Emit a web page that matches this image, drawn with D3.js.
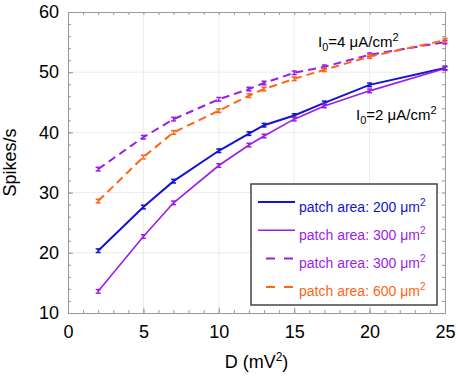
<!DOCTYPE html>
<html>
<head>
<meta charset="utf-8">
<script src="https://cdn.jsdelivr.net/npm/d3@7"></script>
<style>
  body { margin: 0; background: #fff; }
  text { font-family: Arial, "Liberation Sans", sans-serif; }
</style>
</head>
<body>
<svg id="chart"></svg>
<script>
// D values (mV^2) where spikes were measured
const dValues = [2, 5, 7, 10, 12, 13, 15, 17, 20, 25];

// firing rate (spikes/s)
const area200I2 = [20.35, 27.6, 31.9, 36.95, 39.8, 41.2, 42.8, 44.9, 47.9, 50.7];
const area300I2 = [13.6, 22.7, 28.3, 34.5, 37.9, 39.4, 42.2, 44.4, 46.9, 50.6];
const area300I4 = [33.9, 39.2, 42.2, 45.5, 47.2, 48.2, 49.9, 50.9, 52.9, 55.0];
const area600I4 = [28.6, 35.9, 40.0, 43.6, 46.1, 47.2, 48.9, 50.4, 52.6, 55.3];
const errBar = [0.3, 0.3, 0.3, 0.3, 0.3, 0.3, 0.3, 0.3, 0.3, 0.3];

const xTicks = [0, 5, 10, 15, 20, 25];
const yTicks = [10, 20, 30, 40, 50, 60];
const legendLabels = ["patch area: 200 ", "patch area: 300 ", "patch area: 300 ", "patch area: 600 "];

const series = [
  { vals: area200I2, color: "#1414d2", dash: null, width: 2 },
  { vals: area300I2, color: "#9b1ee6", dash: null, width: 1.6 },
  { vals: area300I4, color: "#9b1ee6", dash: "8,5", width: 2 },
  { vals: area600I4, color: "#ff6414", dash: "8,5", width: 2 }
];

const svgWidth = 458;
const svgHeight = 377;
const margin = { top: 12, right: 13, bottom: 64, left: 68 };

const svg = d3.select("#chart")
  .attr("width", svgWidth)
  .attr("height", svgHeight);

const xScale = d3.scaleLinear()
  .domain([0, 25])
  .range([margin.left, svgWidth - margin.right]);

const yScale = d3.scaleLinear()
  .domain([10, 60])
  .range([svgHeight - margin.bottom, margin.top]);

// faint grid
svg.append("g").selectAll("line.gx")
  .data(xTicks.slice(1, -1))
  .enter().append("line")
  .attr("x1", d => xScale(d)).attr("x2", d => xScale(d))
  .attr("y1", yScale(10)).attr("y2", yScale(60))
  .attr("stroke", "#ececec");
svg.append("g").selectAll("line.gy")
  .data(yTicks.slice(1, -1))
  .enter().append("line")
  .attr("y1", d => yScale(d)).attr("y2", d => yScale(d))
  .attr("x1", xScale(0)).attr("x2", xScale(25))
  .attr("stroke", "#ececec");

// axes: minor ticks inward on all four sides
const minorX = d3.range(0, 26, 1);
const minorY = d3.range(10, 61, 2);
const bottomY = svgHeight - margin.bottom;

function styleAxis(g) {
  g.select(".domain").attr("stroke", "#9a9a9a");
  g.selectAll(".tick line").attr("stroke", "#9a9a9a");
}

svg.append("g").attr("transform", `translate(0,${bottomY})`)
  .call(d3.axisBottom(xScale).tickValues(minorX).tickSize(-3).tickSizeOuter(0).tickFormat(""))
  .call(styleAxis);
svg.append("g").attr("transform", `translate(0,${margin.top})`)
  .call(d3.axisTop(xScale).tickValues(minorX).tickSize(-3).tickSizeOuter(0).tickFormat(""))
  .call(styleAxis);
svg.append("g").attr("transform", `translate(${margin.left},0)`)
  .call(d3.axisLeft(yScale).tickValues(minorY).tickSize(-3).tickSizeOuter(0).tickFormat(""))
  .call(styleAxis);
svg.append("g").attr("transform", `translate(${svgWidth - margin.right},0)`)
  .call(d3.axisRight(yScale).tickValues(minorY).tickSize(-3).tickSizeOuter(0).tickFormat(""))
  .call(styleAxis);

// major labels
const xAxis = svg.append("g").attr("transform", `translate(0,${bottomY})`)
  .call(d3.axisBottom(xScale).tickValues(xTicks).tickSize(-5).tickPadding(12).tickFormat(d3.format("d")))
  .call(styleAxis);
const yAxis = svg.append("g").attr("transform", `translate(${margin.left},0)`)
  .call(d3.axisLeft(yScale).tickValues(yTicks).tickSize(-5).tickPadding(9).tickFormat(d3.format("d")))
  .call(styleAxis);
[xAxis, yAxis].forEach(a => a.selectAll("text")
  .attr("font-size", 18).attr("fill", "#000")
  .style("font-family", "Arial, 'Liberation Sans', sans-serif"));

// axis titles
const xTitle = svg.append("text")
  .attr("x", (xScale(0) + xScale(25)) / 2)
  .attr("y", 368)
  .attr("text-anchor", "middle")
  .attr("font-size", 18);
xTitle.append("tspan").text("D (mV");
xTitle.append("tspan").attr("font-size", 12).attr("dy", -7).text("2");
xTitle.append("tspan").attr("dy", 7).text(")");

svg.append("text")
  .attr("transform", `translate(16,${(yScale(10) + yScale(60)) / 2}) rotate(-90)`)
  .attr("text-anchor", "middle")
  .attr("font-size", 18)
  .text("Spikes/s");

// lines
const line = d3.line()
  .x((d, i) => xScale(dValues[i]))
  .y(d => yScale(d));

series.forEach(s => {
  svg.append("path")
    .datum(s.vals)
    .attr("fill", "none")
    .attr("stroke", s.color)
    .attr("stroke-width", s.width)
    .attr("stroke-dasharray", s.dash)
    .attr("d", line);

  const eb = svg.append("g").attr("stroke", s.color).attr("stroke-width", 1.5);
  eb.selectAll("line.v").data(s.vals).enter().append("line")
    .attr("x1", (d, i) => xScale(dValues[i])).attr("x2", (d, i) => xScale(dValues[i]))
    .attr("y1", (d, i) => yScale(d - errBar[i])).attr("y2", (d, i) => yScale(d + errBar[i]));
  [-1, 1].forEach(sg => {
    eb.selectAll(null).data(s.vals).enter().append("line")
      .attr("x1", (d, i) => xScale(dValues[i]) - 2.5).attr("x2", (d, i) => xScale(dValues[i]) + 2.5)
      .attr("y1", (d, i) => yScale(d + sg * errBar[i])).attr("y2", (d, i) => yScale(d + sg * errBar[i]));
  });
});

// annotations
function currentLabel(x, y, val) {
  const t = svg.append("text").attr("x", x).attr("y", y).attr("font-size", 15);
  t.append("tspan").text("I");
  t.append("tspan").attr("font-size", 11).attr("dy", 4).text("0");
  t.append("tspan").attr("dy", -4).text("=" + val + " \u03bcA/cm");
  t.append("tspan").attr("font-size", 11).attr("dy", -6).text("2");
}
currentLabel(318, 47, 4);
currentLabel(356, 120, 2);

// legend
const legend = svg.append("g");
legend.append("rect")
  .attr("x", 251).attr("y", 184)
  .attr("width", 186).attr("height", 121)
  .attr("fill", "#fff")
  .attr("stroke", "#444")
  .attr("stroke-width", 1.5);

series.forEach((s, i) => {
  const ly = 202 + i * 28.3;
  legend.append("line")
    .attr("x1", s.dash ? 266 : 258).attr("x2", s.dash ? 293 : 295)
    .attr("y1", ly).attr("y2", ly)
    .attr("stroke", s.color)
    .attr("stroke-width", s.width)
    .attr("stroke-dasharray", s.dash ? "9,9" : null);
  const t = legend.append("text")
    .attr("x", 299).attr("y", ly + 9.5)
    .attr("font-size", 14)
    .attr("fill", s.color);
  t.append("tspan").text(legendLabels[i] + "\u03bcm");
  t.append("tspan").attr("font-size", 10).attr("dy", -6).text("2");
});
</script>
</body>
</html>
